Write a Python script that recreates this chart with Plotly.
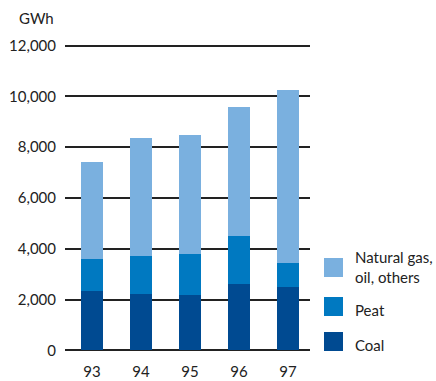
import plotly.graph_objects as go

years = ["93", "94", "95", "96", "97"]
coal = [2340, 2220, 2180, 2620, 2500]
peat = [1260, 1500, 1620, 1890, 950]
gas_oil_others = [3800, 4660, 4660, 5060, 6800]
y_ticks = [0, 2000, 4000, 6000, 8000, 10000, 12000]
y_tick_labels = ["0", "2,000", "4,000", "6,000", "8,000", "10,000", "12,000"]

c_coal = "#004a91"
c_peat = "#0079c1"
c_gas = "#7ab0df"
txt = "#222222"
FONT = "Lato, 'Open Sans', sans-serif"

ML, MR, MT, MB = 65, 126, 43, 28
W, H = 436, 381

x = list(range(len(years)))
fig = go.Figure()
for name, vals, col in [("Coal", coal, c_coal), ("Peat", peat, c_peat),
                        ("Natural gas, oil, others", gas_oil_others, c_gas)]:
    fig.add_trace(go.Bar(x=x, y=vals, name=name, marker=dict(color=col, line=dict(width=0)),
                         width=0.45, showlegend=False))

fig.update_layout(
    barmode="stack",
    width=W, height=H,
    margin=dict(l=ML, r=MR, t=MT, b=MB, autoexpand=False),
    paper_bgcolor="white", plot_bgcolor="white",
    font=dict(family=FONT, size=15, color=txt),
    xaxis=dict(range=[-0.551, 4.449], tickmode="array", tickvals=x, ticktext=years,
               showgrid=False, zeroline=False, showline=False, ticks="",
               automargin=False, ticklabelstandoff=8, tickfont=dict(size=15, color=txt)),
    yaxis=dict(range=[-100, 12100], tickmode="array", tickvals=y_ticks, ticktext=y_tick_labels,
               showgrid=True, gridcolor="#222222", gridwidth=1.5, zeroline=False,
               showline=False, ticks="", automargin=False, ticklabelstandoff=8,
               tickfont=dict(size=15, color=txt)),
)

# pixel position -> paper coordinates
pw, ph = W - ML - MR, H - MT - MB
def px(xp):
    return (xp - ML) / pw
def py(yp):
    return (H - MB - yp) / ph

# unit label above the axis
fig.add_annotation(text="GWh", x=px(36), y=py(18), xref="paper", yref="paper",
                   xanchor="center", yanchor="middle", showarrow=False,
                   font=dict(size=15, color=txt))

# legend: colour swatches with labels
legend = [(c_gas, 258, 277, "Natural gas,<br>oil, others", 267),
          (c_peat, 297, 316, "Peat", 310),
          (c_coal, 332, 351, "Coal", 345)]
for col, y0, y1, label, ty in legend:
    fig.add_shape(type="rect", xref="paper", yref="paper",
                  x0=px(324), x1=px(343), y0=py(y1), y1=py(y0),
                  fillcolor=col, line=dict(width=0))
    fig.add_annotation(text=label, xref="paper", yref="paper", x=px(353), y=py(ty),
                       xanchor="left", yanchor="middle", align="left", showarrow=False,
                       font=dict(size=15, color=txt))

fig.write_html("out.html")
